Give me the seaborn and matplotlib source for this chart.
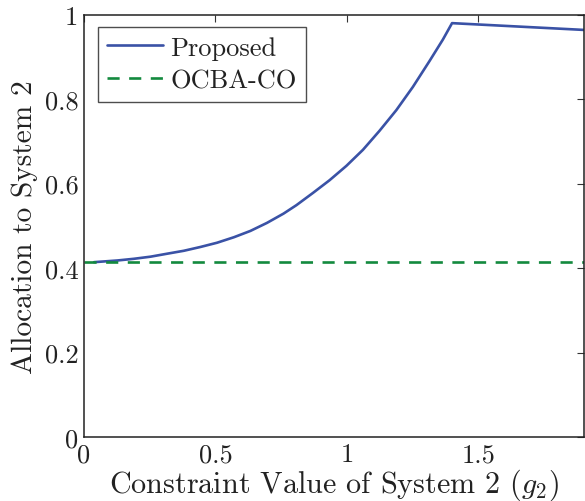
import numpy as np
import pandas as pd
import matplotlib
matplotlib.use("Agg")
import matplotlib.pyplot as plt
import seaborn as sns

# ---- data ----
proposed_x = [0.038, 0.127, 0.19, 0.253, 0.316, 0.380, 0.443, 0.506, 0.570, 0.633,
              0.696, 0.759, 0.808, 0.871, 0.934, 0.998, 1.061, 1.124, 1.188, 1.251,
              1.314, 1.365, 1.400, 1.90]
proposed_y = [0.414, 0.418, 0.422, 0.427, 0.434, 0.441, 0.450, 0.460, 0.473, 0.488,
              0.507, 0.529, 0.549, 0.578, 0.608, 0.642, 0.680, 0.725, 0.774, 0.829,
              0.890, 0.941, 0.980, 0.964]
ocba_x = [0.0, 1.9]
ocba_y = [0.414, 0.414]
x_ticks = [0, 0.5, 1, 1.5]
x_tick_labels = ["0", "0.5", "1", "1.5"]
y_ticks = [0, 0.2, 0.4, 0.6, 0.8, 1.0]
y_tick_labels = ["0", "0.2", "0.4", "0.6", "0.8", "1"]
series_names = ["Proposed", "OCBA-CO"]

sns.set_theme(style="white")
plt.rcParams["font.family"] = ["cmr10", "DejaVu Serif"]
plt.rcParams["mathtext.fontset"] = "cm"
plt.rcParams["axes.formatter.use_mathtext"] = True

df_p = pd.DataFrame({"x": proposed_x, "y": proposed_y})
df_o = pd.DataFrame({"x": ocba_x, "y": ocba_y})

fig = plt.figure(figsize=(5.85, 5.02), dpi=100)
ax = fig.add_axes([84 / 585, 64 / 502, 499.5 / 585, 422.3 / 502])

blue = "#3a52a6"
green = "#138a3e"
sns.lineplot(data=df_p, x="x", y="y", ax=ax, color=blue, lw=1.9,
             label=series_names[0], sort=False)
sns.lineplot(data=df_o, x="x", y="y", ax=ax, color=green, lw=1.9,
             label=series_names[1], sort=False)
ax.lines[1].set_dashes((4.6, 3.6))

ax.set_xlim(0, 1.9)
ax.set_ylim(0, 1)
ax.set_xticks(x_ticks)
ax.set_xticklabels(x_tick_labels)
ax.set_yticks(y_ticks)
ax.set_yticklabels(y_tick_labels)
ax.tick_params(axis="both", direction="in", length=5, width=0.8, color="#333333",
               labelsize=19, top=True, right=True, pad=4, labelcolor="#222222")
for s in ax.spines.values():
    s.set_color("#222222")
    s.set_linewidth(1.1)
    s.set_visible(True)

ax.set_xlabel(r"Constraint Value of System 2 $(g_2)$", fontsize=21.7,
              color="#222222", labelpad=0)
ax.set_ylabel("Allocation to System 2", fontsize=21.2, color="#222222", labelpad=5)

leg = ax.legend(loc="upper left", bbox_to_anchor=(14 / 499.5, 1 - 12 / 422.3),
                fontsize=19, frameon=True, fancybox=False, handlelength=2.1,
                handletextpad=0.28, borderpad=0.35, labelspacing=0.35,
                borderaxespad=0)
leg.get_frame().set_edgecolor("#222222")
leg.get_frame().set_linewidth(1.0)
for t in leg.get_texts():
    t.set_color("#222222")

fig.savefig("out.png", dpi=100, facecolor="white")
